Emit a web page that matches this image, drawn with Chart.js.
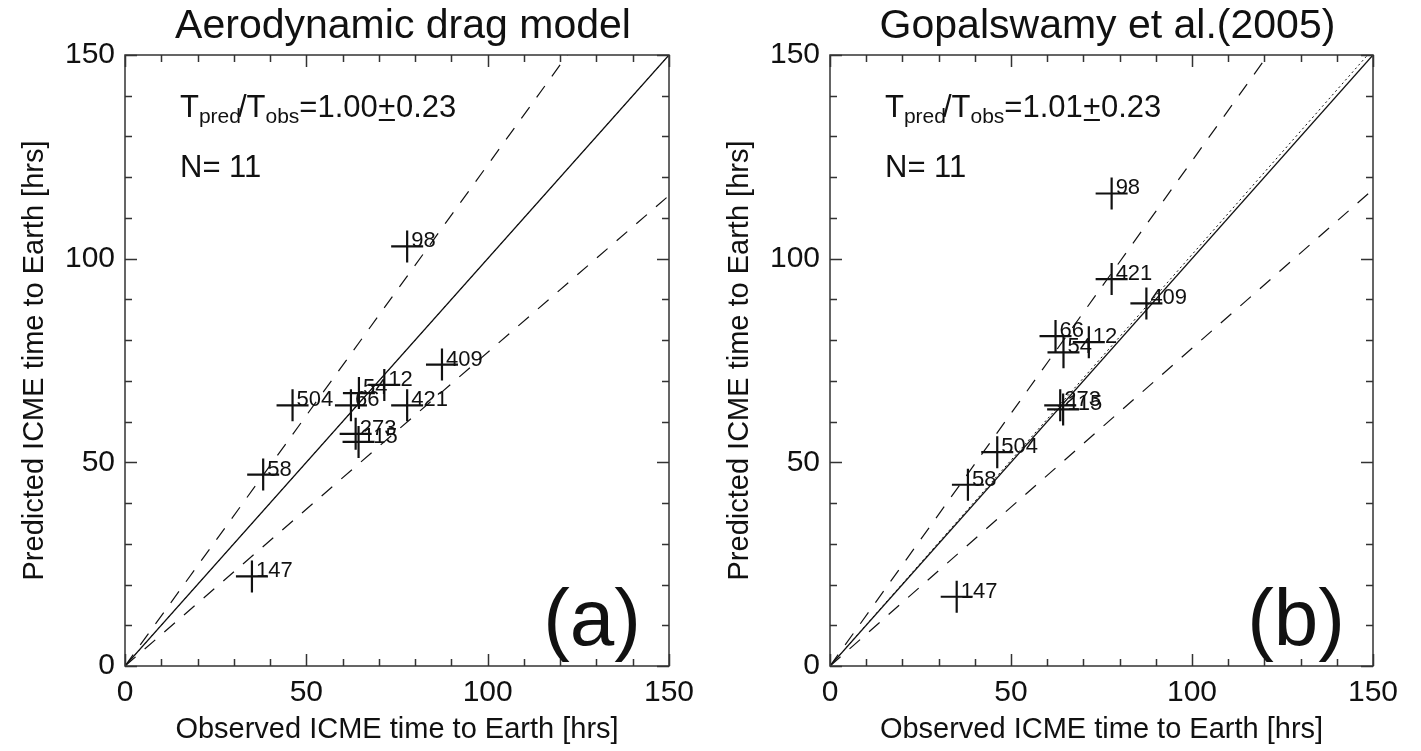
<!DOCTYPE html>
<html>
<head>
<meta charset="utf-8">
<script src="https://cdn.jsdelivr.net/npm/chart.js@4.4.0/dist/chart.umd.min.js"></script>
<style>
  html, body { margin: 0; padding: 0; background: #fff; }
  #wrap { position: relative; width: 1421px; height: 751px; }
  .panel { position: absolute; top: 0; height: 751px; }
  #panel-a { left: 0; width: 705px; }
  #panel-b { left: 705px; width: 716px; }
</style>
</head>
<body>
<div id="wrap">
  <div class="panel" id="panel-a"><canvas id="chart-a" width="705" height="751"></canvas></div>
  <div class="panel" id="panel-b"><canvas id="chart-b" width="716" height="751"></canvas></div>
</div>
<script>
// CME event ids (same events in both panels)
const eventIds = ['98', '409', '12', '421', '54', '66', '504', '273', '115', '58', '147'];
// observed ICME transit time [hrs]
const observedHrs = [77.8, 87.4, 71.5, 77.8, 64.5, 62.3, 46.2, 63.6, 64.4, 38.1, 35.0];
// predicted transit time, aerodynamic drag model [hrs]
const dragPredHrs = [103, 74, 69, 64, 67, 64, 64, 57, 55, 47, 22];
// predicted transit time, Gopalswamy et al. (2005) [hrs]
const gopalPredHrs = [116, 89, 79.5, 95, 77, 81, 52.5, 64, 63, 44.5, 17];

// Tpred/Tobs statistics per panel
const panelTitles = ['Aerodynamic drag model', 'Gopalswamy et al.(2005)'];
const panelLetters = ['(a)', '(b)'];
const ratioMean = [1.00, 1.01];
const ratioStd = [0.23, 0.23];
const sampleSize = [11, 11];

// axis ticks
const axisMin = 0;
const axisMax = 150;
const majorStep = 50;
const minorStep = 10;

const FONT = '"Liberation Sans", Arial, Helvetica, sans-serif';
const INK = '#111';

// inward ticks on all four sides plus the frame
const frameTicks = {
    id: 'frameTicks',
    afterDatasetsDraw(chart) {
        const ctx = chart.ctx;
        const area = chart.chartArea;
        const xs = chart.scales.x, ys = chart.scales.y;
        ctx.save();
        ctx.strokeStyle = '#333';
        ctx.lineWidth = 1.5;
        ctx.strokeRect(area.left, area.top, area.right - area.left, area.bottom - area.top);
        ctx.beginPath();
        for (let v = axisMin; v <= axisMax; v += minorStep) {
            const len = v % majorStep === 0 ? 12 : 7;
            const px = Math.round(xs.getPixelForValue(v)) + 0.5;
            const py = Math.round(ys.getPixelForValue(v)) + 0.5;
            ctx.moveTo(px, area.bottom); ctx.lineTo(px, area.bottom - len);
            ctx.moveTo(px, area.top); ctx.lineTo(px, area.top + len);
            ctx.moveTo(area.left, py); ctx.lineTo(area.left + len, py);
            ctx.moveTo(area.right, py); ctx.lineTo(area.right - len, py);
        }
        ctx.stroke();
        ctx.restore();
    }
};

// event id next to each cross
const pointLabels = {
    id: 'pointLabels',
    afterDatasetsDraw(chart) {
        const ctx = chart.ctx;
        ctx.save();
        ctx.fillStyle = INK;
        ctx.font = '22px ' + FONT;
        ctx.textAlign = 'left';
        ctx.textBaseline = 'alphabetic';
        chart.data.datasets.forEach((ds, i) => {
            if (!ds.pointText) return;
            chart.getDatasetMeta(i).data.forEach((pt, j) => {
                ctx.fillText(ds.pointText[j], pt.x + 4, pt.y + 1);
            });
        });
        ctx.restore();
    }
};

// title, ratio text, N and panel letter
const panelText = {
    id: 'panelText',
    afterDraw(chart) {
        const ctx = chart.ctx;
        const area = chart.chartArea;
        const k = chart.options.plugins.panelText.index;
        ctx.save();
        ctx.fillStyle = INK;
        ctx.strokeStyle = INK;

        ctx.font = '41px ' + FONT;
        ctx.textAlign = 'center';
        ctx.textBaseline = 'middle';
        ctx.fillText(panelTitles[k], (area.left + area.right) / 2 + 6, 27);

        ctx.textAlign = 'left';
        ctx.textBaseline = 'alphabetic';
        const big = '31px ' + FONT, small = '21px ' + FONT;
        const y0 = area.top + 62;
        let cx = area.left + 55;
        const put = (txt, font, dy) => {
            ctx.font = font;
            ctx.fillText(txt, cx, y0 + dy);
            const w = ctx.measureText(txt).width;
            cx += w;
            return w;
        };
        put('T', big, 0);
        put('pred', small, 6);
        cx -= 3;
        put('/', big, 0);
        put('T', big, 0);
        put('obs', small, 6);
        put('=' + ratioMean[k].toFixed(2), big, 0);
        const x1 = cx;
        const w = put('+', big, 0);
        ctx.lineWidth = 2;
        ctx.beginPath();
        ctx.moveTo(x1 + 1, y0 + 3);
        ctx.lineTo(x1 + w - 1, y0 + 3);
        ctx.stroke();
        put(ratioStd[k].toFixed(2), big, 0);

        ctx.font = big;
        ctx.fillText('N= ' + sampleSize[k], area.left + 55, area.top + 122);

        ctx.font = '80px ' + FONT;
        ctx.textAlign = 'right';
        ctx.fillText(panelLetters[k], area.right - 28, area.bottom - 21);
        ctx.restore();
    }
};

function lineSet(slope, dash, width) {
    return {
        data: [{x: axisMin, y: axisMin * slope}, {x: axisMax, y: axisMax * slope}],
        showLine: true,
        borderColor: INK,
        borderWidth: width,
        borderDash: dash,
        pointRadius: 0,
        fill: false
    };
}

function makePanel(canvasId, k, predicted, rightPad) {
    const ctx = document.getElementById(canvasId).getContext('2d');
    const points = observedHrs.map((x, i) => ({x: x, y: predicted[i]}));
    return new Chart(ctx, {
        type: 'scatter',
        data: {
            datasets: [
                lineSet(1, [], 1.3),
                lineSet(ratioMean[k], [2, 3], 1),
                lineSet(ratioMean[k] + ratioStd[k], [14, 12], 1.2),
                lineSet(ratioMean[k] - ratioStd[k], [14, 12], 1.2),
                {
                    data: points,
                    pointText: eventIds,
                    pointStyle: 'cross',
                    pointRadius: 16,
                    pointBorderWidth: 2.2,
                    borderColor: INK,
                    backgroundColor: INK,
                    showLine: false
                }
            ]
        },
        options: {
            responsive: false,
            animation: false,
            layout: { padding: { left: 0, top: 55, right: rightPad, bottom: 0 } },
            scales: {
                x: {
                    type: 'linear',
                    min: axisMin,
                    max: axisMax,
                    grid: { display: false, drawTicks: false },
                    border: { display: false },
                    ticks: { stepSize: majorStep, color: INK, font: { family: FONT, size: 30 }, padding: 9, maxRotation: 0 },
                    title: { display: true, text: 'Observed ICME time to Earth [hrs]', color: INK,
                             font: { family: FONT, size: 29 }, padding: { top: 0, bottom: 4 } },
                    afterFit(s) { s.height = 85; }
                },
                y: {
                    type: 'linear',
                    min: axisMin,
                    max: axisMax,
                    grid: { display: false, drawTicks: false },
                    border: { display: false },
                    ticks: { stepSize: majorStep, color: INK, font: { family: FONT, size: 30 }, padding: 10 },
                    title: { display: true, text: 'Predicted ICME time to Earth [hrs]', color: INK,
                             font: { family: FONT, size: 29 }, padding: { top: 18, bottom: 0 } },
                    afterFit(s) { s.width = 125; }
                }
            },
            plugins: {
                legend: { display: false },
                tooltip: { enabled: false },
                panelText: { index: k }
            }
        },
        plugins: [frameTicks, pointLabels, panelText]
    });
}

makePanel('chart-a', 0, dragPredHrs, 36);
makePanel('chart-b', 1, gopalPredHrs, 48);
</script>
</body>
</html>
